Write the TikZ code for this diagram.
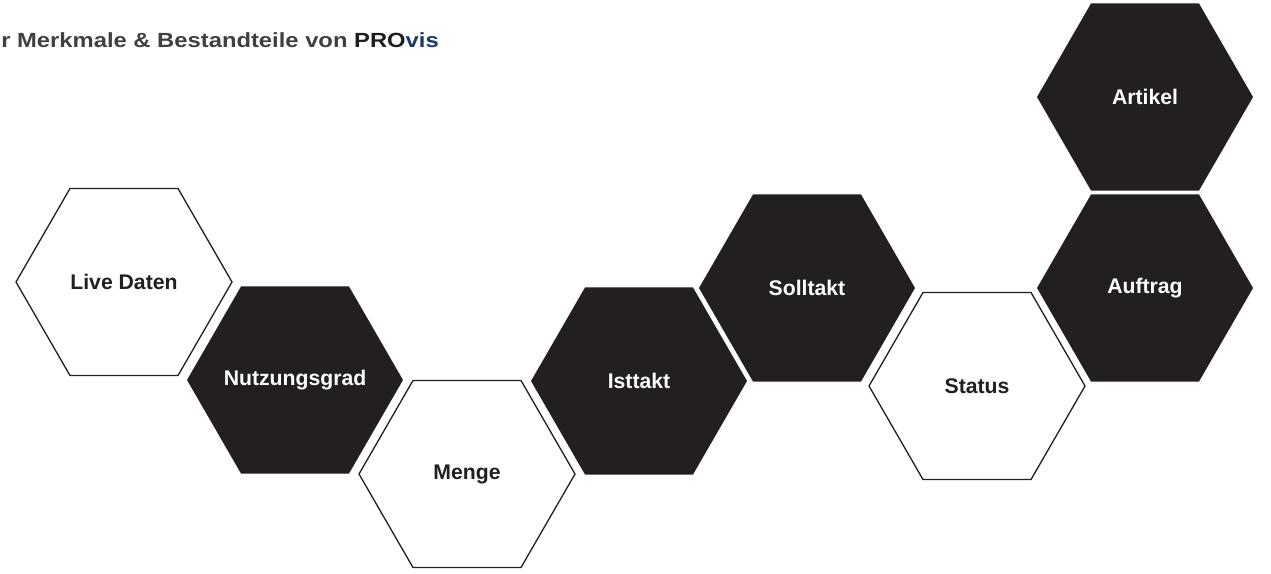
\documentclass[tikz,border=0pt]{standalone}
\usepackage{fontspec}
\setmainfont{Liberation Sans}
\usetikzlibrary{shapes.geometric}
\definecolor{hexblack}{HTML}{231F20}
\definecolor{titlegray}{HTML}{404040}
\definecolor{titledark}{HTML}{1E1E1E}
\definecolor{titleblue}{HTML}{173A67}
\tikzset{
  hexbase/.style={regular polygon, regular polygon sides=6, minimum size=216pt, inner sep=0pt},
  hexlabel/.style={font=\fontsize{21.2}{25}\selectfont\bfseries, inner sep=0pt},
  hexdark/.style={hexbase, fill=hexblack, label={[hexlabel, text=white]center:#1}},
  hexlight/.style={hexbase, fill=white, draw=hexblack, line width=1.3pt, label={[hexlabel, text=hexblack]center:#1}},
}
\begin{document}
\begin{tikzpicture}[x=1pt,y=-1pt]
\useasboundingbox (0,0) rectangle (1271,573);
\node[anchor=base east, inner sep=0pt, xscale=1.16, font=\fontsize{20.5}{24}\selectfont\bfseries] (title) at (439,47)
  {\textcolor{titlegray}{r Merkmale \& Bestandteile von }\textcolor{titledark}{PRO}\textcolor{titleblue}{vis}};
\node[hexlight={Live Daten}] (live) at (124,282) {};
\node[hexdark={Nutzungsgrad}] (nutz) at (295,380) {};
\node[hexlight={Menge}] (menge) at (467,474) {};
\node[hexdark={Isttakt}] (ist) at (639,381) {};
\node[hexdark={Solltakt}] (soll) at (807,288) {};
\node[hexlight={Status}] (status) at (977,386) {};
\node[hexdark={Auftrag}] (auftrag) at (1145,288) {};
\node[hexdark={Artikel}] (artikel) at (1145,97) {};
\end{tikzpicture}
\end{document}
